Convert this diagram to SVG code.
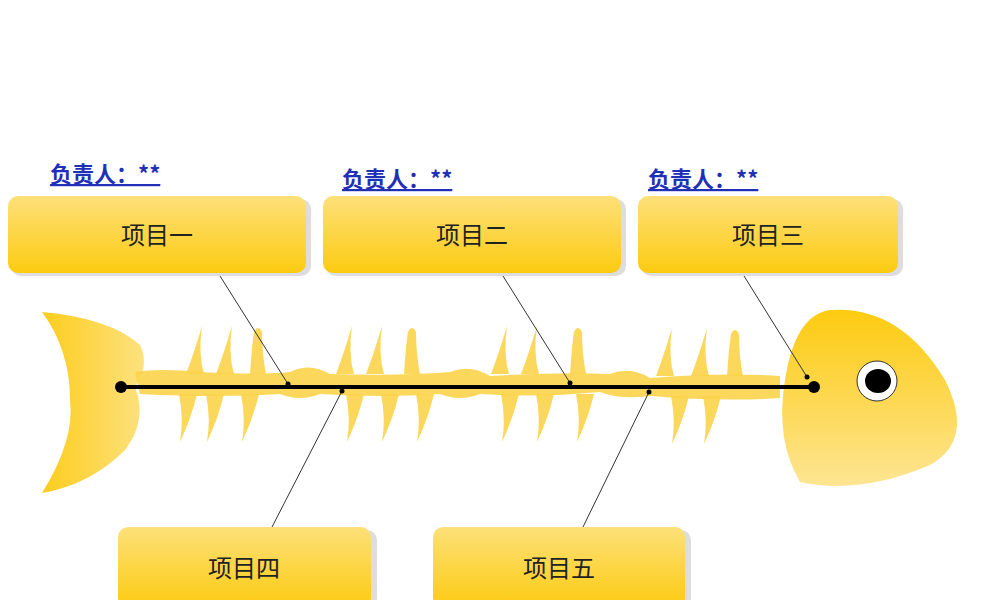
<svg xmlns="http://www.w3.org/2000/svg" width="1000" height="600" viewBox="0 0 1000 600">
<style>
.box{fill:url(#bg);}
.shadow{fill:#ddd;}
.t{font-family:"Noto Sans CJK SC","Liberation Sans",sans-serif;font-size:24px;fill:#222;text-anchor:middle;}
.who{font-family:"Noto Sans CJK SC","Liberation Sans",sans-serif;font-size:22px;font-weight:bold;fill:#1f2fb8;text-decoration:underline;}
.ln{stroke:#333;stroke-width:1;fill:none;}
.fin{fill:#fbd44a;opacity:0.9;}
</style>
<defs>
<linearGradient id="bg" x1="0" y1="0" x2="0" y2="1"><stop offset="0" stop-color="#fde07a"/><stop offset="1" stop-color="#fccb10"/></linearGradient>
<linearGradient id="hg" x1="0" y1="0" x2="0" y2="1"><stop offset="0" stop-color="#fdcb10"/><stop offset="1" stop-color="#fde592"/></linearGradient>
<linearGradient id="tg" x1="0" y1="0" x2="1" y2="0"><stop offset="0" stop-color="#fccd1c"/><stop offset="1" stop-color="#fde17f"/></linearGradient>
<path id="up" d="M-9,0 Q-2,-18 7,-48 Q3,-20 9,0 Z"/>
<path id="dn" d="M-9,0 Q-4,25 -8,48 Q3,25 9,0 Z"/>
<path id="upr" d="M-8,0 Q-6,-30 -4,-42 Q0,-50 4,-42 Q4,-20 8,0 Z"/>
</defs>
<g id="fish">
<path d="M42,312 Q110,318 140,345 Q150,365 135,387 Q148,420 125,450 Q90,485 42,493 Q75,440 70,400 Q70,350 42,312 Z" fill="url(#tg)"/>
<path class="fin" d="M135,372 Q160,368 200,372 Q260,375 290,372 Q310,362 330,374 Q400,376 450,372 Q470,364 490,376 Q560,372 610,374 Q630,366 650,378 Q720,372 780,376 L780,398 Q720,402 650,396 Q620,400 600,392 Q540,398 480,394 Q460,402 440,394 Q380,398 320,394 Q300,402 280,394 Q220,398 140,394 Z"/>
<g class="fin">
<use href="#up" x="195" y="374"/><use href="#up" x="225" y="374"/><use href="#upr" x="258" y="374"/>
<use href="#dn" x="188" y="394"/><use href="#dn" x="215" y="394"/><use href="#dn" x="250" y="394"/>
<use href="#up" x="345" y="374"/><use href="#up" x="375" y="374"/><use href="#upr" x="412" y="374"/>
<use href="#dn" x="355" y="394"/><use href="#dn" x="390" y="394"/><use href="#dn" x="425" y="394"/>
<use href="#up" x="500" y="374"/><use href="#up" x="530" y="374"/><use href="#upr" x="578" y="374"/>
<use href="#dn" x="510" y="394"/><use href="#dn" x="545" y="394"/><use href="#dn" x="585" y="394"/>
<use href="#up" x="665" y="376"/><use href="#up" x="700" y="376"/><use href="#upr" x="735" y="376"/>
<use href="#dn" x="680" y="396"/><use href="#dn" x="712" y="396"/>
</g>
<path d="M830,310 Q900,305 945,380 Q975,440 930,465 Q860,495 800,482 Q775,440 785,380 Q795,315 830,310 Z" fill="url(#hg)"/>
<ellipse cx="877" cy="381" rx="20" ry="20" fill="#fff" stroke="#333" stroke-width="1"/>
<ellipse cx="878" cy="381" rx="13" ry="12" fill="#000"/>
</g>
<g id="connectors">
<line x1="121" y1="387" x2="814" y2="387" stroke="#000" stroke-width="4"/>
<circle cx="121" cy="387" r="6"/><circle cx="814" cy="387" r="6"/>
<path class="ln" d="M220,276 L288,384 M503,276 L570,383 M744,276 L807,377 M342,391 L272,527 M649,392 L583,527"/>
<circle cx="288" cy="384" r="2.5"/><circle cx="570" cy="383" r="2.5"/><circle cx="807" cy="377" r="2.5"/><circle cx="342" cy="391" r="2.5"/><circle cx="649" cy="392" r="2.5"/>
</g>
<g id="n1"><rect class="shadow" x="11" y="199" width="300" height="77" rx="10"/><rect class="box" x="8" y="196" width="298" height="77" rx="10"/><text class="t" x="157" y="244">项目一</text><text class="who" x="50" y="182">负责人：**</text></g>
<g id="n2"><rect class="shadow" x="326" y="199" width="300" height="77" rx="10"/><rect class="box" x="323" y="196" width="298" height="77" rx="10"/><text class="t" x="472" y="244">项目二</text><text class="who" x="342" y="187">负责人：**</text></g>
<g id="n3"><rect class="shadow" x="641" y="199" width="262" height="77" rx="10"/><rect class="box" x="638" y="196" width="260" height="77" rx="10"/><text class="t" x="768" y="244">项目三</text><text class="who" x="648" y="187">负责人：**</text></g>
<g id="n4"><rect class="shadow" x="121" y="530" width="256" height="80" rx="10"/><rect class="box" x="118" y="527" width="253" height="80" rx="10"/><text class="t" x="244" y="577">项目四</text></g>
<g id="n5"><rect class="shadow" x="436" y="530" width="255" height="80" rx="10"/><rect class="box" x="433" y="527" width="252" height="80" rx="10"/><text class="t" x="559" y="577">项目五</text></g>
</svg>
